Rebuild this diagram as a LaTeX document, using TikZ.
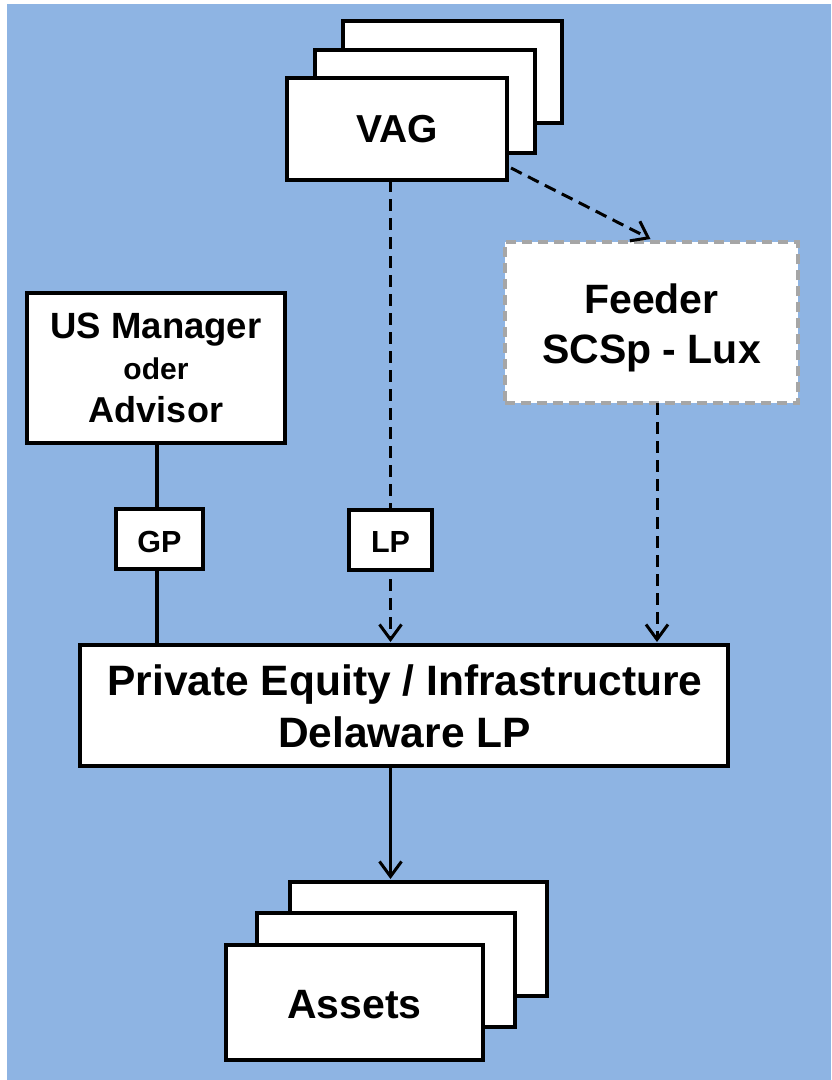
\documentclass[tikz,border=0pt]{standalone}
\usepackage{fontspec}
\setmainfont{Liberation Sans}
\usetikzlibrary{arrows.meta,calc}
\definecolor{bgblue}{RGB}{142,180,227}
\definecolor{feedgray}{RGB}{166,166,166}
\begin{document}
\begin{tikzpicture}[x=1pt,y=-1pt,
  box/.style={draw=black, fill=white, line width=3.6pt, inner sep=0pt, outer sep=0pt},
  feedbox/.style={draw=feedgray, fill=white, line width=3.2pt, dash pattern=on 10pt off 6pt, inner sep=0pt, outer sep=0pt},
  txt/.style={inner sep=0pt, outer sep=0pt, anchor=base, font=\bfseries},
  solidline/.style={line width=3.4pt, draw=black},
  dasharr/.style={line width=3pt, draw=black, dash pattern=on 12pt off 7pt, -{Straight Barb[length=15pt,width=22pt,line width=3pt]}},
  solidarr/.style={line width=3pt, draw=black, -{Straight Barb[length=15pt,width=22pt,line width=3pt]}}
]
\useasboundingbox (0,0) rectangle (831,1080);
\fill[bgblue] (7,4) rectangle (831,1080);

% VAG stack
\node[box, minimum width=219pt, minimum height=102pt] (vagback) at (452.5,72) {};
\node[box, minimum width=220pt, minimum height=103pt] (vagmid) at (425,101.5) {};
\node[box, minimum width=220pt, minimum height=102pt] (vag) at (397,129) {};
\node[txt, font=\bfseries\fontsize{39}{48}\selectfont] (vagt) at (397,142) {VAG};

% Feeder
\node[feedbox, minimum width=293pt, minimum height=161pt] (feeder) at (651.5,322.5) {};
\node[txt, font=\bfseries\fontsize{41}{50}\selectfont] (feedt1) at (651.5,313) {Feeder};
\node[txt, font=\bfseries\fontsize{41}{50}\selectfont] (feedt2) at (651.5,363) {SCSp - Lux};

% US Manager
\node[box, minimum width=258pt, minimum height=150pt] (us) at (156,368) {};
\node[txt, font=\bfseries\fontsize{36.5}{42}\selectfont] (ust1) at (156,338) {US Manager};
\node[txt, font=\bfseries\fontsize{30}{36}\selectfont] (ust2) at (156,379) {oder};
\node[txt, font=\bfseries\fontsize{36}{42}\selectfont] (ust3) at (156,422) {Advisor};

% PE
\node[box, minimum width=648pt, minimum height=121pt] (pe) at (404,705.5) {};
\node[txt, font=\bfseries\fontsize{42.5}{52}\selectfont] (pet1) at (405,695) {Private Equity / Infrastructure};
\node[txt, font=\bfseries\fontsize{42.5}{52}\selectfont] (pet2) at (404.5,747) {Delaware LP};

% connectors
\coordinate (fx) at (657,0);
\coordinate (lx) at (390.5,0);
\coordinate (gx) at (157,0);
\draw[dasharr] (vag.south -| lx) -- ($(pe.north -| lx)+(0,-3)$);
\draw[dasharr] ($(vag.south east)+(4,-12)$) -- ($(feeder.north)+(-1,-3)$);
\draw[dasharr] (feeder.south -| fx) -- ($(pe.north -| fx)+(0,-3)$);
\draw[solidline] (us.south -| gx) -- (pe.north -| gx);

% GP / LP labels
\node[box, minimum width=87pt, minimum height=60pt] (gp) at (159.5,539) {};
\node[txt, font=\bfseries\fontsize{30.5}{36}\selectfont] (gpt) at (159.5,552) {GP};
\node[box, minimum width=83pt, minimum height=60pt] (lp) at (390.5,540) {};
\node[txt, font=\bfseries\fontsize{30.5}{36}\selectfont] (lpt) at (390.5,552) {LP};

% Assets stack
\node[box, minimum width=257pt, minimum height=114pt] (assback) at (418.5,939) {};
\node[box, minimum width=258pt, minimum height=114pt] (assmid) at (386,970) {};
\node[box, minimum width=257pt, minimum height=115pt] (assets) at (354.5,1002.5) {};
\node[txt, font=\bfseries\fontsize{41}{50}\selectfont] (asst) at (354.5,1018) {Assets};

\draw[solidarr] (pe.south -| lx) -- ($(assback.north -| lx)+(0,-3)$);
\end{tikzpicture}
\end{document}
